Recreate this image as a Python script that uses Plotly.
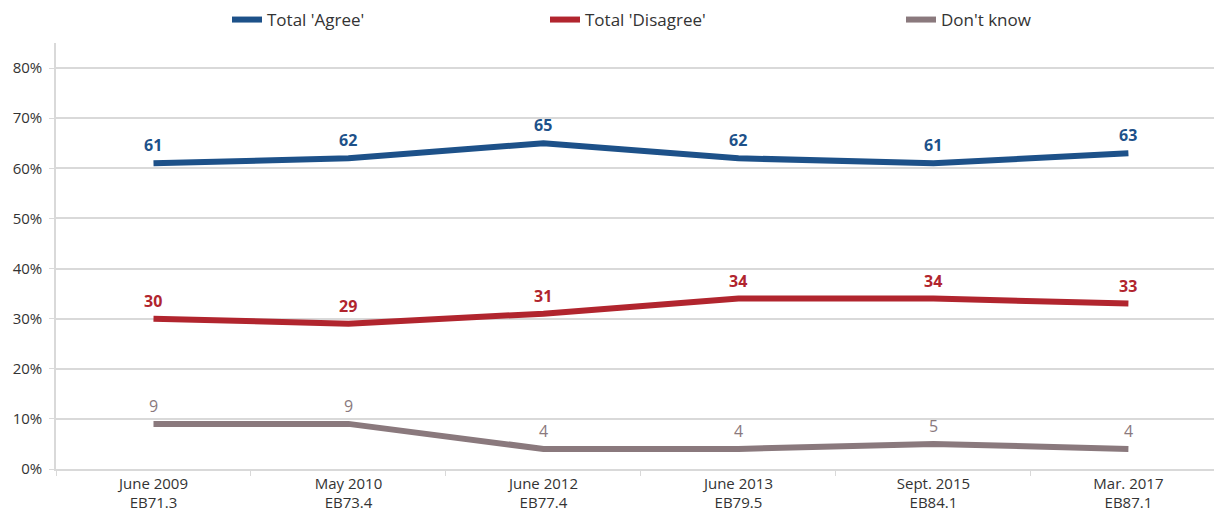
import plotly.graph_objects as go

categories = ["June 2009<br>EB71.3", "May 2010<br>EB73.4", "June 2012<br>EB77.4",
              "June 2013<br>EB79.5", "Sept. 2015<br>EB84.1", "Mar. 2017<br>EB87.1"]
agree = [61, 62, 65, 62, 61, 63]
disagree = [30, 29, 31, 34, 34, 33]
dont_know = [9, 9, 4, 4, 5, 4]
y_ticks = [0, 10, 20, 30, 40, 50, 60, 70, 80]
y_tick_labels = [f"{v}%" for v in y_ticks]

# (name, values, colour, legend id, target text start x on screen, bold label)
series = [
    ("Total 'Agree'", agree, "#1D5189", "legend", 268, True),
    ("Total 'Disagree'", disagree, "#B1252E", "legend2", 586, True),
    ("Don't know", dont_know, "#8A797D", "legend3", 942, False),
]

OFF = 8  # page body margin offset
W, H = 1222 - OFF, 521 - OFF
ml, mr, mt, mb = 56 - OFF, 0, 43 - OFF, 52
pw, ph = W - ml - mr, H - mt - mb

fig = go.Figure()
annotations = []
for name, vals, color, lg, lx, bold in series:
    fig.add_trace(go.Scatter(
        x=categories, y=vals, name=name, mode="lines",
        line=dict(color=color, width=6),
        legend=lg,
    ))
    for c, v in zip(categories, vals):
        annotations.append(dict(
            x=c, y=v, xref="x", yref="y", text=(f"<b>{v}</b>" if bold else str(v)),
            showarrow=False, yshift=18, yanchor="middle",
            font=dict(color=color, size=16, family="Open Sans"),
        ))

legend_common = dict(orientation="h", yanchor="middle", xanchor="left",
                     bgcolor="rgba(0,0,0,0)", itemwidth=30,
                     font=dict(size=17, color="#333333", family="Open Sans"))
legend_pos = {}
for name, vals, color, lg, lx, bold in series:
    px = (lx - OFF - 41 - ml) / pw
    py = 1 + (mt - (20 - OFF)) / ph
    legend_pos[lg] = dict(x=px, y=py, **legend_common)

fig.update_layout(
    width=W, height=H,
    margin=dict(l=ml, r=mr, t=mt, b=mb, autoexpand=False),
    paper_bgcolor="white", plot_bgcolor="white",
    showlegend=True,
    annotations=annotations,
    font=dict(family="Open Sans", size=15, color="#333333"),
    xaxis=dict(
        type="category", showgrid=False, showline=True, linecolor="#D9D9D9", linewidth=1.5,
        ticks="outside", tickson="boundaries", ticklen=5, tickcolor="#D9D9D9",
        tickfont=dict(size=15, color="#333333", family="Open Sans"),
        range=[-0.5, 5.48], zeroline=False,
    ),
    yaxis=dict(
        range=[0, 85], tickvals=y_ticks, ticktext=y_tick_labels,
        showgrid=True, gridcolor="#D9D9D9", gridwidth=2,
        showline=True, linecolor="#D9D9D9", linewidth=1.5,
        ticks="outside", ticklen=5, tickcolor="#D9D9D9",
        tickfont=dict(size=15, color="#333333", family="Open Sans"),
        zeroline=False, ticklabelstandoff=4,
    ),
    **legend_pos,
)

fig.write_html("out.html")
